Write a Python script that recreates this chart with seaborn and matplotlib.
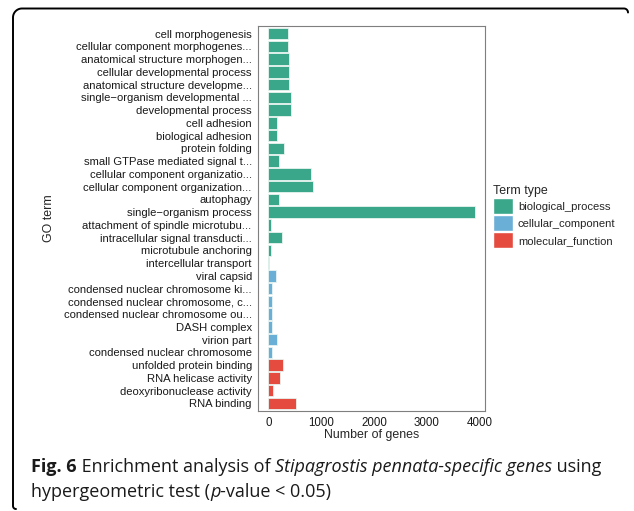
import numpy as np
import pandas as pd
import matplotlib
matplotlib.use("Agg")
import matplotlib.pyplot as plt
from matplotlib.lines import Line2D
from matplotlib.patches import Patch
import seaborn as sns

# GO terms, their category and gene counts
terms = [
    "cell morphogenesis",
    "cellular component morphogenes...",
    "anatomical structure morphogen...",
    "cellular developmental process",
    "anatomical structure developme...",
    "single\u2212organism developmental ...",
    "developmental process",
    "cell adhesion",
    "biological adhesion",
    "protein folding",
    "small GTPase mediated signal t...",
    "cellular component organizatio...",
    "cellular component organization...",
    "autophagy",
    "single\u2212organism process",
    "attachment of spindle microtubu...",
    "intracellular signal transducti...",
    "microtubule anchoring",
    "intercellular transport",
    "viral capsid",
    "condensed nuclear chromosome ki...",
    "condensed nuclear chromosome, c...",
    "condensed nuclear chromosome ou...",
    "DASH complex",
    "virion part",
    "condensed nuclear chromosome",
    "unfolded protein binding",
    "RNA helicase activity",
    "deoxyribonuclease activity",
    "RNA binding",
]
term_types = (["biological_process"] * 19
              + ["cellular_component"] * 7
              + ["molecular_function"] * 4)
gene_counts = [372, 372, 384, 384, 397, 422, 429, 157, 157, 297, 195, 813,
               851, 208, 3905, 51, 252, 51, 13, 138, 62, 62, 62, 62, 164, 62,
               284, 227, 89, 529]
type_order = ["biological_process", "cellular_component", "molecular_function"]
type_colors = ["#3AA68A", "#6AAFD6", "#E54B3E"]
x_ticks = [0, 1000, 2000, 3000, 4000]

df = pd.DataFrame({"term": terms, "type": term_types, "count": gene_counts})

sns.set_style("white")
plt.rcParams["font.family"] = ["Liberation Sans", "DejaVu Sans"]

W, H = 634, 511
fig = plt.figure(figsize=(W / 100, H / 100), dpi=100)
fig.patch.set_facecolor("white")

# panel placement in pixels
left, right, top, bottom = 258, 485, 26, 411
ax = fig.add_axes([left / W, 1 - bottom / H, (right - left) / W, (bottom - top) / H])

sns.barplot(data=df, x="count", y="term", hue="type", order=terms,
            hue_order=type_order, palette=type_colors, saturation=1,
            dodge=False, width=0.9, edgecolor="#E8F4F0", linewidth=0.6,
            legend=False, orient="h", ax=ax)

xmax = max(gene_counts)
pad = 0.05 * xmax
ax.set_xlim(-pad, xmax + pad)
ax.set_ylim(len(terms) - 0.4, -0.6)
ax.set_xticks(x_ticks)
ax.set_xticklabels([str(t) for t in x_ticks])

for s in ax.spines.values():
    s.set_color("#7F7F7F")
    s.set_linewidth(0.8)
ax.tick_params(axis="both", which="both", length=3, width=0.6, color="#333333",
               labelsize=8.1, labelcolor="#1A1A1A", pad=1.5)
ax.tick_params(axis="x", labelsize=8.3, pad=1.5)
ax.set_xlabel("Number of genes", fontsize=8.9, labelpad=0)
ax.set_ylabel("GO term", fontsize=8.9, labelpad=6)
ax.grid(False)

# legend to the right of the panel
handles = [Patch(facecolor=c, edgecolor="white") for c in type_colors]
leg = ax.legend(handles, type_order, title="Term type", loc="upper left",
                bbox_to_anchor=(483 / W, 1 - 175 / H),
                bbox_transform=fig.transFigure, frameon=False,
                fontsize=8.1, title_fontsize=8.9, handlelength=1.75,
                handleheight=1.75, handletextpad=0.45, labelspacing=0.12,
                alignment="left")

# rounded frame around the figure
def px(x, y):
    return x / W, 1 - y / H

r = 9
x0, y0, x1 = 13, 8.5, 628
ang = np.linspace(np.pi, np.pi / 2, 20)
corner_x = x0 + r + r * np.cos(ang)
corner_y = y0 + r - r * np.sin(ang)
xs = np.concatenate([[x0], corner_x, [x1 - 4]])
ys = np.concatenate([[506], corner_y, [y0]])
ang2 = np.linspace(np.pi / 2, 0, 10)
xs = np.concatenate([xs, x1 - 4 + 4 * np.cos(ang2)])
ys = np.concatenate([ys, y0 + 4 - 4 * np.sin(ang2)])
ang3 = np.linspace(np.pi, 3 * np.pi / 2, 10)
bx = x0 + 3 + 3 * np.cos(ang3)
by = 506 - 3 * np.sin(ang3)
xs = np.concatenate([bx[::-1], xs])
ys = np.concatenate([by[::-1], ys])
fx, fy = px(xs, ys)
fig.add_artist(Line2D(fx, fy, transform=fig.transFigure, color="black",
                      linewidth=1.4, solid_capstyle="round"))

# caption with mixed styles
cap_font = "Open Sans"
cap_size = 13.0
fig.canvas.draw()
renderer = fig.canvas.get_renderer()

def caption_line(pieces, x, y):
    for txt, weight, style in pieces:
        t = fig.text(x / W, 1 - y / H, txt, fontsize=cap_size, family=cap_font,
                     fontweight=weight, fontstyle=style, color="#1A1A1A",
                     va="baseline", ha="left")
        bb = t.get_window_extent(renderer=renderer)
        x += bb.width

caption_line([("Fig. 6", "bold", "normal"),
              (" Enrichment analysis of ", "normal", "normal"),
              ("Stipagrostis pennata-specific genes", "normal", "italic"),
              (" using", "normal", "normal")], 31, 472)
caption_line([("hypergeometric test (", "normal", "normal"),
              ("p", "normal", "italic"),
              ("-value < 0.05)", "normal", "normal")], 31, 497)

fig.savefig("out.png", dpi=100, facecolor="white")
